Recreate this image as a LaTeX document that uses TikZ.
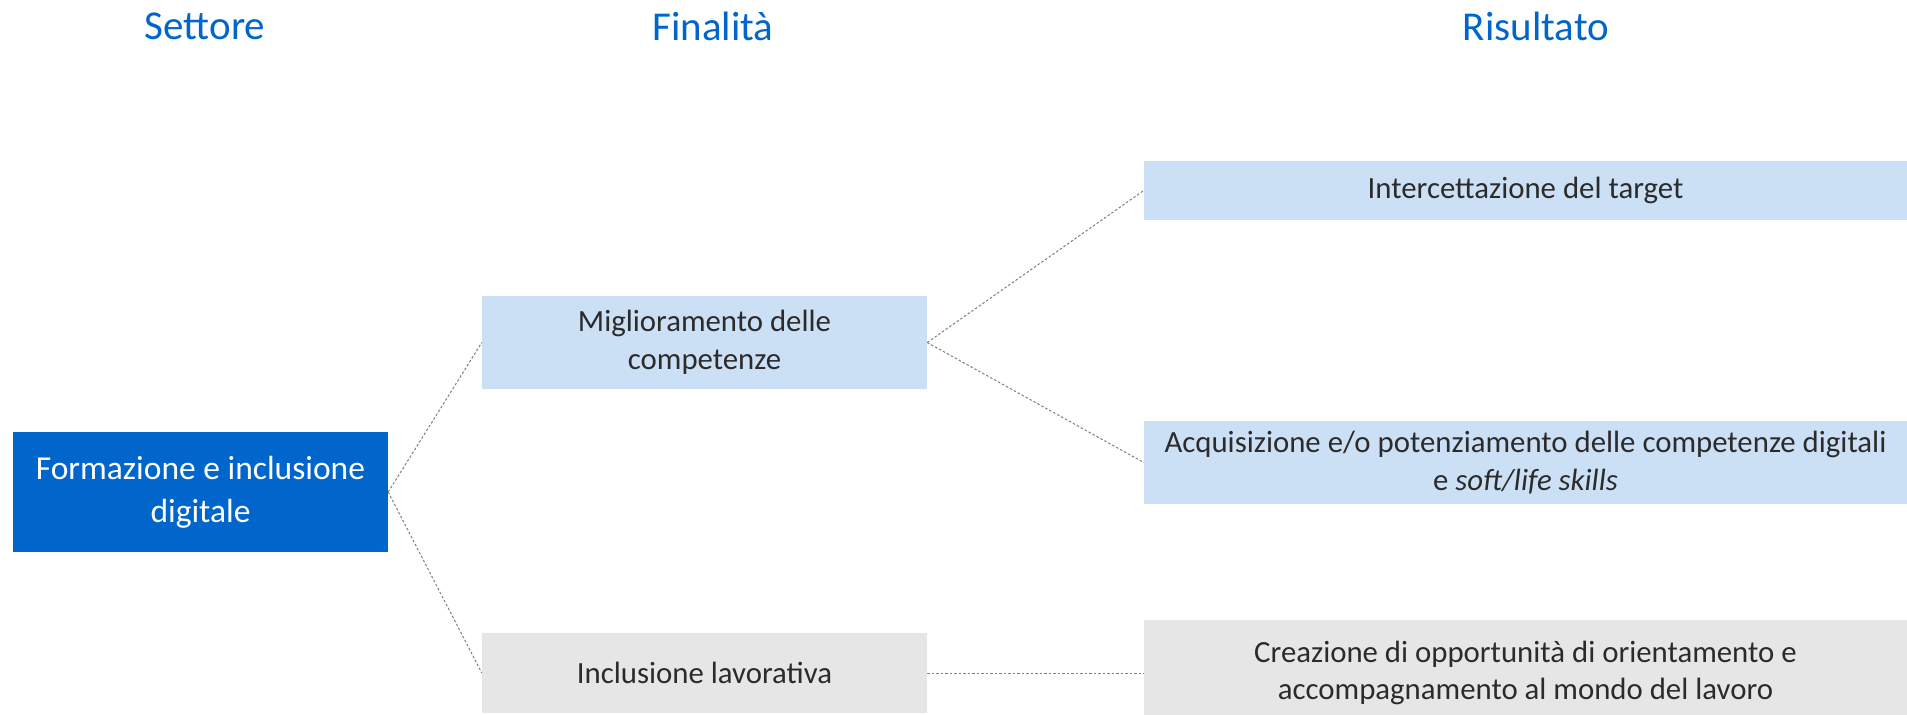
\documentclass[tikz,border=0pt]{standalone}
\usepackage{fontspec}
\setmainfont{Carlito}
\definecolor{hdrblue}{HTML}{0066CC}
\definecolor{darkbox}{HTML}{0066CC}
\definecolor{lightbox}{HTML}{CCE0F5}
\definecolor{graybox}{HTML}{E6E6E6}
\definecolor{bodytext}{HTML}{2B2B2B}
\definecolor{linkgray}{HTML}{7F7F7F}
\begin{document}
\begin{tikzpicture}[x=1pt,y=-1pt,
  hdr/.style={text=hdrblue,font=\fontsize{41}{49}\selectfont,inner sep=0pt},
  box/.style={rectangle,inner sep=0pt,align=center,text=bodytext,font=\fontsize{30.8}{37.5}\selectfont},
  mainbox/.style={box,fill=darkbox,text=white,font=\fontsize{33.5}{42.5}\selectfont},
  bluebox/.style={box,fill=lightbox},
  greybox/.style={box,fill=graybox},
  link/.style={draw=linkgray,line width=1pt,dash pattern=on 2.5pt off 2pt}]
\useasboundingbox (0,0) rectangle (1907,715);
\fill[white] (0,0) rectangle (1907,715);
% headers
\node[hdr] (h1) at (205,26) {Settore};
\node[hdr] (h2) at (713,26) {Finalità};
\node[hdr] (h3) at (1536,26) {Risultato};
% boxes
\node[mainbox,minimum width=375pt,minimum height=120pt] (form) at (200.5,492) {Formazione e inclusione\\digitale};
\node[bluebox,minimum width=445pt,minimum height=93pt] (migl) at (704.5,342.5) {Miglioramento delle\\competenze};
\node[greybox,minimum width=445pt,minimum height=80pt] (incl) at (704.5,673) {Inclusione lavorativa};
\node[bluebox,minimum width=763pt,minimum height=59pt] (inter) at (1525.5,190.5) {Intercettazione del target};
\node[bluebox,minimum width=763pt,minimum height=83pt] (acq) at (1525.5,462.5) {Acquisizione e/o potenziamento delle competenze digitali\\e \textit{soft/life skills}};
\node[greybox,minimum width=763pt,minimum height=106pt] (crea) at (1525.5,673) {Creazione di opportunità di orientamento e\\accompagnamento al mondo del lavoro};
% connectors
\draw[link] (form.east) -- (migl.west);
\draw[link] (form.east) -- (incl.west);
\draw[link] (migl.east) -- (inter.west);
\draw[link] (migl.east) -- (acq.west);
\draw[link] (incl.east) -- (crea.west);
\end{tikzpicture}
\end{document}
